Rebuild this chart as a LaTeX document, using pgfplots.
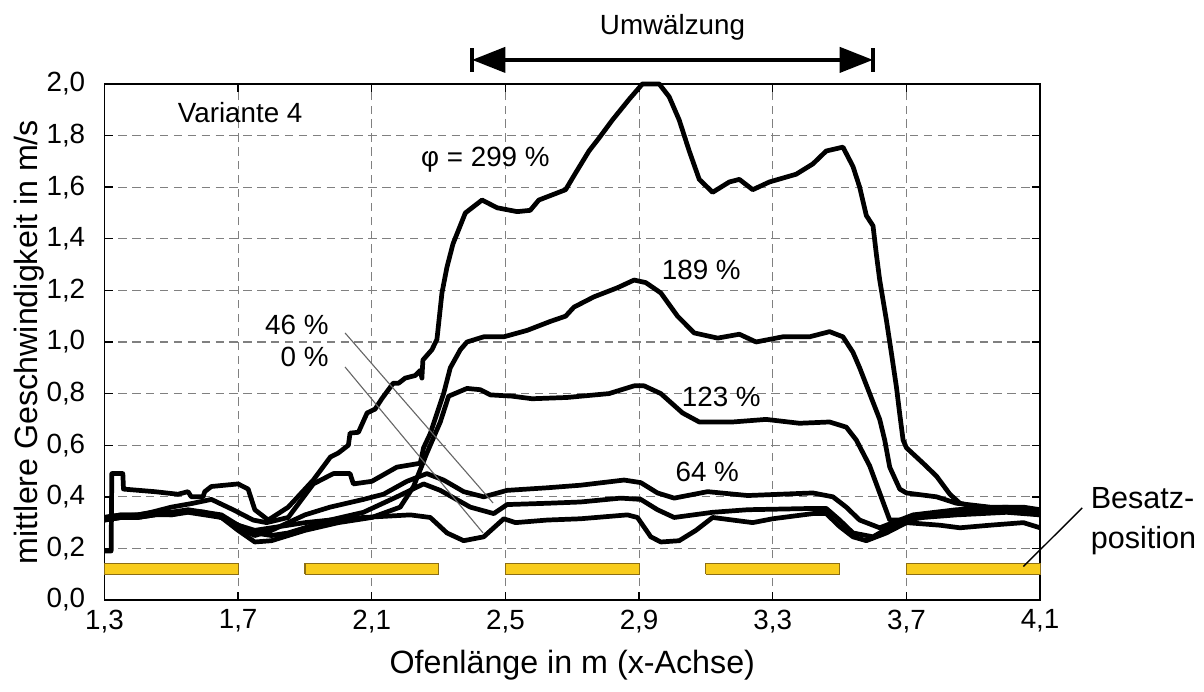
\documentclass[border=0pt]{standalone}
\usepackage{fontspec}
\setmainfont{Liberation Sans}
\usepackage{pgfplots}
\pgfplotsset{compat=1.18}
\usetikzlibrary{arrows.meta}
\definecolor{besatz}{RGB}{248,204,28}
\definecolor{besatzrand}{RGB}{140,110,20}

\begin{document}
\begin{tikzpicture}
\begin{axis}[
    name=ax,
    scale only axis,
    width=336.8pt, height=185.8pt,
    xmin=1.3, xmax=4.1, ymin=0, ymax=2,
    xtick={1.3,1.7,2.1,2.5,2.9,3.3,3.7,4.1},
    ytick={0,0.2,0.4,0.6,0.8,1.0,1.2,1.4,1.6,1.8,2.0},
    grid=major,
    major grid style={black!50, line width=0.4pt, dash pattern=on 3pt off 2pt},
    axis line style={line width=0.6pt},
    tick align=inside, major tick length=3pt,
    tick style={black, line width=0.5pt},
    tick label style={font=\fontsize{10}{12}\selectfont},
    yticklabel style={xshift=-3.4pt},
    /pgf/number format/.cd, fixed, fixed zerofill, precision=1, use comma, assume math mode=true,
    /pgfplots/.cd,
    xlabel={Ofenlänge in m (x-Achse)},
    ylabel={mittlere Geschwindigkeit in m/s},
    label style={font=\fontsize{11.6}{13}\selectfont},
    xlabel style={at={(axis description cs:0.5,-0.126)}, anchor=center},
    ylabel style={at={(axis description cs:-0.08,0.5)}, anchor=center, rotate=0},
    clip=false,
    curve/.style={black, line width=1.7pt, line join=round},
]
% Besatzpositionen
\addplot[fill=besatz, draw=besatzrand, line width=0.4pt] coordinates {(1.3,0.1) (1.7,0.1) (1.7,0.14) (1.3,0.14) (1.3,0.1)};
\addplot[fill=besatz, draw=besatzrand, line width=0.4pt] coordinates {(1.9,0.1) (2.3,0.1) (2.3,0.14) (1.9,0.14) (1.9,0.1)};
\addplot[fill=besatz, draw=besatzrand, line width=0.4pt] coordinates {(2.5,0.1) (2.9,0.1) (2.9,0.14) (2.5,0.14) (2.5,0.1)};
\addplot[fill=besatz, draw=besatzrand, line width=0.4pt] coordinates {(3.1,0.1) (3.5,0.1) (3.5,0.14) (3.1,0.14) (3.1,0.1)};
\addplot[fill=besatz, draw=besatzrand, line width=0.4pt] coordinates {(3.7,0.1) (4.1,0.1) (4.1,0.14) (3.7,0.14) (3.7,0.1)};

% 0 %
\addplot[curve] coordinates {
(1.30,0.31)(1.35,0.32)(1.40,0.32)(1.45,0.33)(1.50,0.33)(1.55,0.34)(1.60,0.33)(1.65,0.32)(1.70,0.29)(1.75,0.27)(1.80,0.28)
(1.85,0.29)(1.90,0.30)(1.975,0.31)(2.075,0.32)(2.215,0.33)(2.275,0.32)(2.30,0.29)(2.325,0.26)
(2.375,0.23)(2.435,0.245)(2.495,0.315)(2.53,0.30)(2.625,0.31)(2.725,0.315)(2.865,0.33)(2.895,0.32)
(2.935,0.245)(2.965,0.225)(3.02,0.23)(3.07,0.27)(3.12,0.32)(3.24,0.30)(3.30,0.315)(3.42,0.335)(3.46,0.335)
(3.50,0.285)(3.54,0.245)(3.58,0.23)(3.64,0.26)(3.70,0.30)(3.80,0.29)(3.86,0.28)(3.95,0.29)
(4.05,0.30)(4.10,0.28)};
% 46 %
\addplot[curve] coordinates {
(1.30,0.32)(1.35,0.33)(1.40,0.33)(1.45,0.335)(1.50,0.34)(1.55,0.345)(1.60,0.34)(1.65,0.33)(1.70,0.29)(1.75,0.26)(1.80,0.25)
(1.85,0.26)(1.90,0.28)(1.975,0.31)(2.075,0.34)(2.175,0.40)(2.255,0.45)(2.305,0.425)(2.395,0.36)
(2.465,0.335)(2.505,0.37)(2.625,0.375)(2.725,0.38)(2.845,0.395)(2.905,0.39)(2.955,0.35)(3.005,0.32)
(3.12,0.34)(3.225,0.35)(3.42,0.355)(3.46,0.355)(3.50,0.31)(3.54,0.26)(3.60,0.245)(3.66,0.29)
(3.72,0.32)(3.85,0.34)(4.00,0.35)(4.10,0.33)};
% 64 %
\addplot[curve] coordinates {
(1.30,0.31)(1.35,0.32)(1.40,0.32)(1.45,0.33)(1.50,0.34)(1.55,0.35)(1.60,0.34)(1.65,0.32)(1.70,0.28)(1.75,0.25)(1.80,0.27)
(1.85,0.30)(1.90,0.33)(1.975,0.36)(2.075,0.39)(2.135,0.41)(2.205,0.46)(2.265,0.49)(2.315,0.465)
(2.375,0.42)(2.435,0.40)(2.505,0.425)(2.625,0.435)(2.725,0.445)(2.855,0.465)(2.905,0.455)(2.955,0.415)
(3.005,0.395)(3.105,0.42)(3.225,0.405)(3.42,0.415)(3.48,0.40)(3.52,0.36)(3.56,0.31)(3.62,0.28)
(3.66,0.30)(3.72,0.33)(3.85,0.35)(4.00,0.36)(4.10,0.34)};
% 123 %
\addplot[curve] coordinates {
(1.30,0.32)(1.35,0.33)(1.40,0.33)(1.45,0.34)(1.50,0.33)(1.55,0.345)(1.60,0.34)(1.65,0.32)(1.70,0.27)(1.75,0.225)(1.80,0.23)
(1.85,0.25)(1.90,0.27)(2.00,0.30)(2.10,0.32)(2.185,0.36)(2.225,0.44)(2.265,0.57)(2.305,0.69)
(2.33,0.79)(2.385,0.82)(2.425,0.815)(2.455,0.795)(2.52,0.79)(2.58,0.78)(2.685,0.785)(2.81,0.80)(2.885,0.83)
(2.915,0.83)(2.965,0.80)(3.03,0.725)(3.08,0.69)(3.18,0.69)(3.28,0.70)(3.38,0.685)(3.47,0.69)
(3.52,0.67)(3.55,0.62)(3.59,0.52)(3.62,0.415)(3.65,0.31)(3.70,0.31)(3.75,0.32)(3.85,0.33)
(4.00,0.34)(4.10,0.33)};
% 189 %
\addplot[curve] coordinates {
(1.30,0.32)(1.40,0.33)(1.44,0.34)(1.50,0.36)(1.565,0.375)(1.62,0.39)(1.685,0.35)(1.745,0.31)(1.785,0.30)
(1.85,0.32)(1.925,0.45)(1.985,0.49)(2.035,0.49)(2.045,0.45)(2.10,0.46)(2.175,0.515)(2.245,0.53)
(2.255,0.59)(2.275,0.645)(2.315,0.80)(2.335,0.90)(2.365,0.97)(2.385,1.00)(2.435,1.02)(2.495,1.02)
(2.565,1.045)(2.635,1.08)(2.68,1.10)(2.705,1.135)(2.765,1.175)(2.835,1.21)(2.885,1.24)(2.92,1.23)(2.965,1.19)
(3.015,1.10)(3.065,1.035)(3.135,1.015)(3.20,1.03)(3.25,1.00)(3.33,1.02)(3.41,1.02)(3.47,1.04)
(3.51,1.02)(3.54,0.96)(3.56,0.90)(3.59,0.80)(3.62,0.70)(3.635,0.62)(3.65,0.515)(3.68,0.43)
(3.70,0.415)(3.79,0.40)(3.85,0.375)(3.95,0.36)(4.05,0.36)(4.10,0.35)};
% 299 %
\addplot[curve] coordinates {
(1.302,0.19)(1.32,0.19)(1.322,0.49)(1.355,0.49)(1.357,0.43)(1.45,0.42)(1.52,0.41)(1.55,0.42)(1.56,0.40)(1.595,0.40)
(1.60,0.42)(1.62,0.44)(1.70,0.45)(1.73,0.43)(1.75,0.35)(1.79,0.31)(1.85,0.36)(1.925,0.465)
(1.976,0.554)(2.00,0.57)(2.03,0.60)(2.035,0.647)(2.06,0.65)(2.086,0.725)(2.11,0.74)(2.13,0.78)
(2.164,0.84)(2.18,0.84)(2.20,0.86)(2.23,0.87)(2.245,0.89)(2.25,0.86)(2.253,0.93)(2.28,0.97)(2.295,1.01)(2.31,1.19)
(2.325,1.29)(2.343,1.38)(2.38,1.50)(2.40,1.52)(2.43,1.55)(2.475,1.52)(2.535,1.505)(2.574,1.51)
(2.60,1.55)(2.68,1.59)(2.71,1.655)(2.75,1.74)(2.78,1.79)(2.82,1.86)(2.87,1.94)(2.91,2.00)
(2.96,2.00)(2.99,1.95)(3.02,1.86)(3.05,1.74)(3.08,1.63)(3.12,1.58)(3.17,1.62)(3.20,1.63)
(3.24,1.59)(3.29,1.62)(3.37,1.65)(3.42,1.69)(3.46,1.74)(3.51,1.755)(3.54,1.68)(3.56,1.60)
(3.58,1.49)(3.60,1.45)(3.61,1.34)(3.62,1.24)(3.64,1.085)(3.655,0.957)(3.67,0.826)(3.68,0.72)
(3.69,0.62)(3.70,0.59)(3.75,0.53)(3.79,0.48)(3.83,0.41)(3.86,0.375)(3.91,0.36)(4.00,0.35)
(4.10,0.34)};

% Hinweislinien
\draw[black!60, line width=0.4pt] (axis cs:2.02,1.035) -- (axis cs:2.463,0.376);
\draw[black!60, line width=0.4pt] (axis cs:2.02,0.903) -- (axis cs:2.433,0.26);
\draw[black, line width=0.5pt] (axis cs:4.05,0.13) -- (axis cs:4.226,0.357);

% Beschriftungen
\begingroup
\fontsize{11}{13}\selectfont
\node at (axis cs:1.706,1.89) {Variante 4};
\node at (axis cs:2.44,1.705) {φ = 299 \%};
\node at (axis cs:3.086,1.28) {189 \%};
\node at (axis cs:3.146,0.787) {123 \%};
\node at (axis cs:3.104,0.496) {64 \%};
\node[anchor=east] at (axis cs:2.0,1.066) {46 \%};
\node[anchor=east] at (axis cs:2.0,0.942) {0 \%};
\node[anchor=west, align=left, inner sep=0pt, font=\fontsize{11}{14.5}\selectfont] at (axis cs:4.25,0.305) {Besatz-\\position};
\node at (axis cs:3.0,2.22) {Umwälzung};
\endgroup

% Umwälzung
\draw[line width=1.5pt, {Triangle[length=12pt,width=9pt]}-{Triangle[length=12pt,width=9pt]}] (axis cs:2.4,2.093) -- (axis cs:3.6,2.093);
\draw[line width=1.5pt] (axis cs:2.4,2.047) -- (axis cs:2.4,2.14);
\draw[line width=1.5pt] (axis cs:3.6,2.047) -- (axis cs:3.6,2.14);
\end{axis}
\pgfresetboundingbox
\path ([xshift=-37.6pt,yshift=-32.8pt]ax.south west) rectangle ([xshift=59pt,yshift=30.2pt]ax.north east);
\end{tikzpicture}
\end{document}
